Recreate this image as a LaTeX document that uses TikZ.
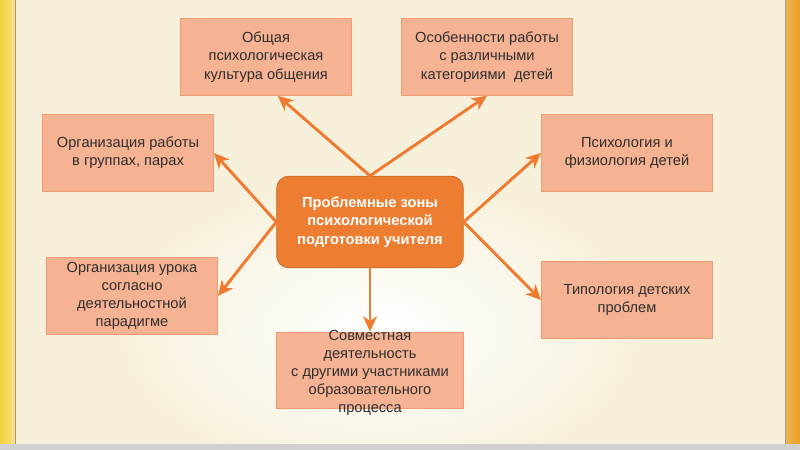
\documentclass[tikz,border=0pt]{standalone}
\usepackage{fontspec}
\setmainfont{Liberation Sans}
\usepackage{tikz}
\usetikzlibrary{positioning,calc,arrows.meta}

\definecolor{bgcream}{HTML}{F7F1DC}
\definecolor{zonefill}{HTML}{F6B393}
\definecolor{zoneline}{HTML}{F09C72}
\definecolor{hubfill}{HTML}{ED7D31}
\definecolor{arrcol}{HTML}{EE7B30}
\definecolor{txtgray}{HTML}{2E2E2E}
\definecolor{edgeyel}{HTML}{F4D03A}
\definecolor{edgeorg}{HTML}{E9A124}

\begin{document}
\begin{tikzpicture}[
    x=0.03cm, y=-0.03cm,
    zone/.style={draw=zoneline, line width=0.8pt, fill=zonefill, minimum width=5.13cm,
        minimum height=2.3cm, align=center, text=txtgray,
        font=\fontsize{12.5}{15.5}\selectfont},
    hub/.style={draw=hubfill!85!black, line width=0.6pt, fill=hubfill, rounded corners=0.36cm,
        minimum width=5.6cm, minimum height=2.75cm, align=center, text=white,
        font=\bfseries\fontsize{12.5}{15.5}\selectfont},
    arr/.style={-{Stealth[length=13pt,width=12pt,inset=4pt]}, line width=2.5pt, arrcol}
]
    \useasboundingbox (0,0) rectangle (800,450);

    % Background
    \fill[bgcream] (0,0) rectangle (800,450);
    \shade[inner color=white, outer color=bgcream] (380,330) ellipse (260 and 150);
    \shade[left color=edgeyel, right color=edgeyel!60!white] (0,0) rectangle (15,450);
    \draw[black!40, line width=0.8pt] (15,0) -- (15,450);
    \shade[left color=edgeorg!80!white, right color=edgeorg] (785,0) rectangle (800,450);
    \draw[black!40, line width=0.8pt] (785,0) -- (785,450);
    \fill[black!18] (0,444) rectangle (800,450);

    % Central node
    \node[hub] (c) at (370,222) {Проблемные зоны\\психологической\\подготовки учителя};

    % Surrounding problem zones
    \node[zone] (b1) at (266,57) {Общая\\психологическая\\культура общения};
    \node[zone] (b2) at (487,57) {Особенности работы\\с различными\\категориями\ \ детей};
    \node[zone] (b3) at (128,153) {Организация работы\\в группах, парах};
    \node[zone] (b4) at (627,153) {Психология и\\физиология детей};
    \node[zone] (b5) at (132,296) {Организация урока\\согласно\\деятельностной\\парадигме};
    \node[zone] (b6) at (627,300) {Типология детских\\проблем};
    \node[zone, minimum width=5.6cm, minimum height=2.28cm] (b7) at (370,370) {};
    \node[text=txtgray, align=center, font=\fontsize{12.5}{15.5}\selectfont] (b7t) at (370,373)
        {Совместная\\деятельность\\с другими участниками\\образовательного\\процесса};

    % Arrows from the hub
    \draw[arr] (c.north) -- (b1.-73);
    \draw[arr] (c.north) -- (b2.south);
    \draw[arr] (c.west) -- (b3.east);
    \draw[arr] (c.west) -- (b5.east);
    \draw[arr] (c.east) -- (b4.west);
    \draw[arr] (c.east) -- (b6.west);
    \draw[arr] (c.south) -- (b7.north);
\end{tikzpicture}
\end{document}
